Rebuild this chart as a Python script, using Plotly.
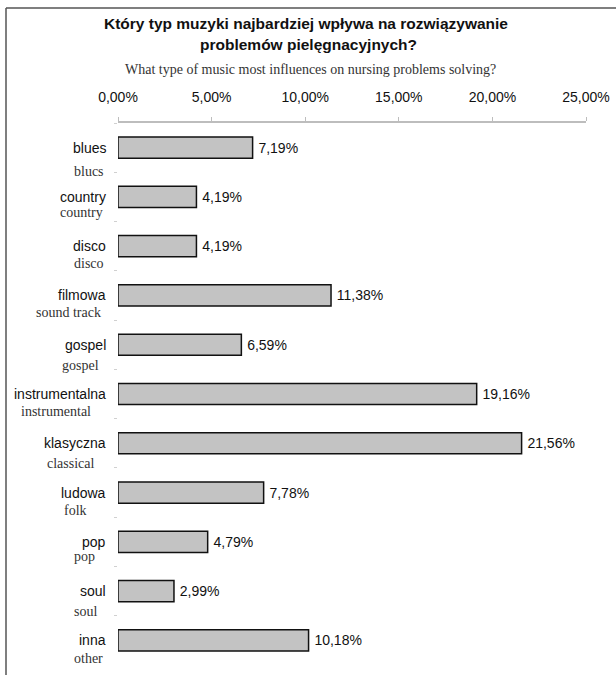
import plotly.graph_objects as go

# Survey answers (Polish category, English translation, share in %)
categories_pl = ["blues", "country", "disco", "filmowa", "gospel", "instrumentalna",
                 "klasyczna", "ludowa", "pop", "soul", "inna"]
categories_en = ["blucs", "country", "disco", "sound track", "gospel", "instrumental",
                 "classical", "folk", "pop", "soul", "other"]
shares = [7.19, 4.19, 4.19, 11.38, 6.59, 19.16, 21.56, 7.78, 4.79, 2.99, 10.18]
x_ticks = [0, 5, 10, 15, 20, 25]

# Plot-area geometry in pixels
W_FIG, H_FIG = 616, 675
L, R, T, B = 118, 586, 123, 665
PW, PH = R - L, B - T


def px(x):
    return (x - L) / PW


def py(y):
    return (B - y) / PH


def pct(v):
    return f"{v:.2f}%".replace(".", ",")


# Right edges and vertical offsets of the English captions (pixels)
en_right = [106, 105, 106, 103, 101, 93, 97, 89, 97, 99, 105]
en_drop = [24, 16, 17, 17, 21, 17, 20, 18, 15, 20, 18]

SANS = "Liberation Sans, Arial, sans-serif"
SERIF = "Liberation Serif, Times New Roman, serif"

labels = ["\u2009" + pct(v) for v in shares]

fig = go.Figure(
    go.Bar(
        y=categories_pl,
        x=shares,
        orientation="h",
        width=0.43,
        marker=dict(color="#c3c3c3", line=dict(color="#111111", width=1.5)),
        text=labels,
        textposition="outside",
        textfont=dict(family=SANS, size=14, color="#111111"),
        cliponaxis=False,
        hoverinfo="skip",
    )
)

annotations = []
for i, (pl, en) in enumerate(zip(categories_pl, categories_en)):
    annotations.append(dict(
        x=px(108), xref="paper", y=pl, yref="y", text=pl, showarrow=False,
        xanchor="right", yanchor="middle",
        font=dict(family=SANS, size=14, color="#111111"),
    ))
    annotations.append(dict(
        x=px(en_right[i]), xref="paper", y=pl, yref="y", yshift=-en_drop[i],
        text=en, showarrow=False, xanchor="right", yanchor="middle",
        font=dict(family=SERIF, size=14, color="#333333"),
    ))

# Titles
annotations += [
    dict(x=px(306), y=py(23), xref="paper", yref="paper", showarrow=False,
         text="<b>Który typ muzyki najbardziej wpływa na rozwiązywanie</b>",
         xanchor="center", yanchor="middle",
         font=dict(family=SANS, size=15.5, color="#111111")),
    dict(x=px(308), y=py(45), xref="paper", yref="paper", showarrow=False,
         text="<b>problemów pielęgnacyjnych?</b>",
         xanchor="center", yanchor="middle",
         font=dict(family=SANS, size=15.5, color="#111111")),
    dict(x=px(310), y=py(69), xref="paper", yref="paper", showarrow=False,
         text="What type of music most influences on nursing problems solving?",
         xanchor="center", yanchor="middle",
         font=dict(family=SERIF, size=14, color="#333333")),
]

# Frame lines along the top and left edges
shapes = [
    dict(type="line", xref="paper", yref="paper", x0=px(6), x1=px(W_FIG + 5),
         y0=py(8), y1=py(8), line=dict(color="#555555", width=1.5)),
    dict(type="line", xref="paper", yref="paper", x0=px(6), x1=px(6),
         y0=py(8), y1=py(H_FIG + 5), line=dict(color="#555555", width=1.5)),
]

fig.update_layout(
    width=W_FIG, height=H_FIG,
    margin=dict(l=L, r=W_FIG - R, t=T, b=H_FIG - B, pad=0, autoexpand=False),
    paper_bgcolor="white", plot_bgcolor="white",
    showlegend=False,
    annotations=annotations,
    shapes=shapes,
    xaxis=dict(
        side="top", range=[0, 25], tickvals=x_ticks, ticktext=[pct(v) for v in x_ticks],
        showgrid=False, zeroline=False, showline=True, linecolor="#bdbdbd", linewidth=1.5,
        ticks="outside", ticklen=4, tickcolor="#bdbdbd", ticklabelstandoff=10,
        tickfont=dict(family=SANS, size=14, color="#111111"), automargin=False,
    ),
    yaxis=dict(
        type="category", categoryorder="array", categoryarray=categories_pl,
        range=[len(categories_pl) - 0.5, -0.5], automargin=False,
        showticklabels=False, showgrid=False, zeroline=False, showline=False,
        ticks="outside", tickson="boundaries", ticklen=3, tickcolor="#d0d0d0",
    ),
)

fig.write_html("out.html")
